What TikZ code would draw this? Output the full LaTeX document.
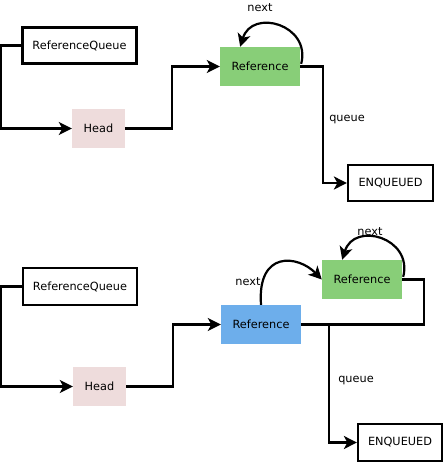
\documentclass[tikz,border=0pt]{standalone}
\usepackage{fontspec}
\setmainfont{DejaVu Sans}
\usetikzlibrary{arrows.meta,calc}
\definecolor{refgreen}{HTML}{88CE78}
\definecolor{refblue}{HTML}{6DAEEB}
\definecolor{headpink}{HTML}{EEDCDC}
\begin{document}
\begin{tikzpicture}[x=1pt,y=-1pt,
  lbl/.style={font=\fontsize{11.3}{13}\selectfont},
  outlined/.style={lbl,draw=black,line width=2.2pt,fill=white,inner sep=0pt},
  filled/.style={lbl,draw=none,inner sep=0pt,minimum width=80pt,minimum height=39pt},
  conn/.style={line width=2.2pt,-{Stealth[length=13pt,width=13pt,inset=3.5pt]}},
  plain/.style={line width=2.2pt}]
\useasboundingbox (0,0) rectangle (445,463);
% ---------- top ----------
\node[outlined,minimum width=114pt,minimum height=36pt] (rq1) at (79.5,45.5) {ReferenceQueue};
\node[filled,fill=headpink,minimum width=53pt] (head1) at (98.5,128.5) {Head};
\node[filled,fill=refgreen] (ref1) at (260,66.5) {Reference};
\node[outlined,minimum width=85pt,minimum height=36pt] (enq1) at (390.5,183) {ENQUEUED};
\draw[conn] (rq1.west) -- ++(-20.5,0) |- (head1.west);
\draw[conn] (head1.east) -- ++(47,0) |- (ref1.west);
\draw[conn] (ref1.east) -- ++(23,0) |- (enq1.west);
\coordinate (l1s) at ($(ref1.north east)+(1,17)$);
\coordinate (l1e) at ($(ref1.north east)+(-60,0)$);
\draw[conn] (l1s) .. controls ($(ref1.north east)+(11,-22)$) and ($(ref1.north east)+(-48,-39)$) .. (l1e);
\node[lbl] (next1) at (260,8) {next};
\node[lbl] (queue1) at (347,120) {queue};
% ---------- bottom ----------
\node[outlined,minimum width=114pt,minimum height=37pt] (rq2) at (80,286.5) {ReferenceQueue};
\node[filled,fill=headpink,minimum width=53pt] (head2) at (99.5,386.5) {Head};
\node[filled,fill=refblue] (blue2) at (261,324.5) {Reference};
\node[filled,fill=refgreen] (green2) at (362,279.5) {Reference};
\node[outlined,minimum width=84pt,minimum height=37pt] (enq2) at (400,442.5) {ENQUEUED};
\draw[conn] (rq2.west) -- ++(-21,0) |- (head2.west);
\draw[conn] (head2.east) -- ++(47,0) |- (blue2.west);
\draw[conn] (blue2.east) -- ++(28,0) |- (enq2.west);
\draw[plain] (green2.east) -- ++(22,0) |- (blue2.east);
\draw[conn] (blue2.north) .. controls (257,250) and (298,255) .. (green2.west);
\coordinate (l2s) at ($(green2.north east)+(1,17)$);
\coordinate (l2e) at ($(green2.north east)+(-60,0)$);
\draw[conn] (l2s) .. controls ($(green2.north east)+(11,-22)$) and ($(green2.north east)+(-48,-39)$) .. (l2e);
\node[lbl] (next2) at (370,232) {next};
\node[lbl] (next3) at (248,282) {next};
\node[lbl] (queue2) at (356,381) {queue};
\end{tikzpicture}
\end{document}
